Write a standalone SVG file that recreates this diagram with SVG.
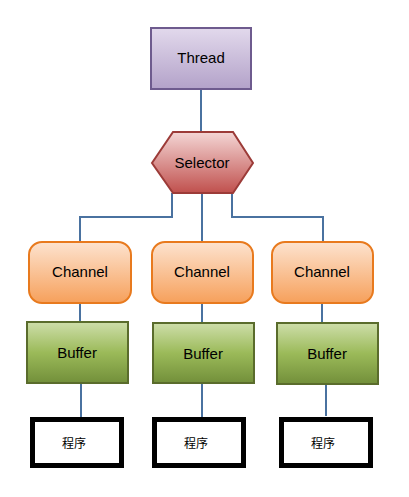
<svg xmlns="http://www.w3.org/2000/svg" width="409" height="497" viewBox="0 0 409 497">
<defs>
<linearGradient id="gThread" x1="0" y1="0" x2="0" y2="1"><stop offset="0" stop-color="#e2d9ec"/><stop offset="1" stop-color="#b3a2c9"/></linearGradient>
<linearGradient id="gSel" x1="0" y1="0" x2="0" y2="1"><stop offset="0" stop-color="#f4d6d5"/><stop offset="1" stop-color="#c0504d"/></linearGradient>
<linearGradient id="gChan" x1="0" y1="0" x2="0" y2="1"><stop offset="0" stop-color="#fde3cf"/><stop offset="1" stop-color="#f6a05b"/></linearGradient>
<linearGradient id="gBuf" x1="0" y1="0" x2="0" y2="1"><stop offset="0" stop-color="#cedeaa"/><stop offset="0.5" stop-color="#9bba59"/><stop offset="1" stop-color="#728f3a"/></linearGradient>
</defs>
<style>
text{font-family:"Liberation Sans",Arial,sans-serif;font-size:15px;fill:#000;text-anchor:middle;dominant-baseline:central}
.cjk{font-family:"Noto Sans CJK SC","Liberation Sans",sans-serif;font-size:12px}
.conn{fill:none;stroke:#4a72a0;stroke-width:2}
.thread{fill:url(#gThread);stroke:#6e5b8e;stroke-width:2}
.sel{fill:url(#gSel);stroke:#9c3b38;stroke-width:2}
.chan{fill:url(#gChan);stroke:#e87a1e;stroke-width:2}
.buf{fill:url(#gBuf);stroke:#5a6c2c;stroke-width:2}
.prog{fill:#fff;stroke:#000;stroke-width:5}
</style>
<g id="connectors">
<path class="conn" d="M201 89V132"/>
<path class="conn" d="M172 193V217H80V242"/>
<path class="conn" d="M202 193V242"/>
<path class="conn" d="M232 193V217H323V242"/>
<path class="conn" d="M80 303V322"/>
<path class="conn" d="M202 303V323"/>
<path class="conn" d="M322 303V323"/>
<path class="conn" d="M81 383V417"/>
<path class="conn" d="M202 383V417"/>
<path class="conn" d="M326 384V416"/>
</g>
<g id="thread"><rect class="thread" x="151" y="28" width="100" height="61"/><text x="201" y="57">Thread</text></g>
<g id="selector"><polygon class="sel" points="173,132 233,132 253,163 233,193 173,193 152,163"/><text x="202" y="162">Selector</text></g>
<g id="channel1"><rect class="chan" x="29" y="242" width="102" height="61" rx="13"/><text x="80" y="271">Channel</text></g>
<g id="channel2"><rect class="chan" x="152" y="242" width="101" height="61" rx="13"/><text x="202" y="271">Channel</text></g>
<g id="channel3"><rect class="chan" x="272" y="242" width="101" height="61" rx="13"/><text x="322" y="271">Channel</text></g>
<g id="buffer1"><rect class="buf" x="27" y="322" width="101" height="61"/><text x="77" y="352">Buffer</text></g>
<g id="buffer2"><rect class="buf" x="153" y="323" width="101" height="60"/><text x="203" y="353">Buffer</text></g>
<g id="buffer3"><rect class="buf" x="277" y="323" width="101" height="61"/><text x="327" y="353">Buffer</text></g>
<g id="prog1"><rect class="prog" x="32.5" y="419.5" width="89" height="46"/><text class="cjk" x="74" y="442">程序</text></g>
<g id="prog2"><rect class="prog" x="154.5" y="419.5" width="89" height="46"/><text class="cjk" x="196" y="442">程序</text></g>
<g id="prog3"><rect class="prog" x="281.5" y="419.5" width="89" height="46"/><text class="cjk" x="323" y="442">程序</text></g>
</svg>
